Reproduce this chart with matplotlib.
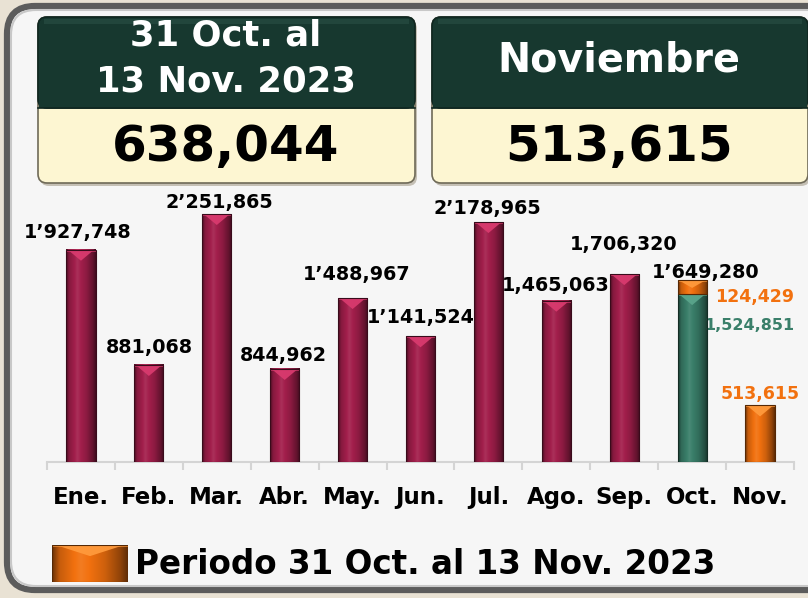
import numpy as np
import matplotlib.pyplot as plt
from matplotlib.patches import FancyBboxPatch, Rectangle, Polygon
from matplotlib.colors import to_rgb

plt.rcParams['font.family'] = ['DejaVu Sans']

# monthly totals, Oct split into base part and the 31 Oct - 13 Nov period
months = ['Ene.', 'Feb.', 'Mar.', 'Abr.', 'May.', 'Jun.', 'Jul.', 'Ago.', 'Sep.', 'Oct.', 'Nov.']
base_values = [1927748, 881068, 2251865, 844962, 1488967, 1141524, 2178965, 1465063, 1706320, 1524851, 0]
period_values = [0, 0, 0, 0, 0, 0, 0, 0, 0, 124429, 513615]
total_labels = ['1’927,748', '881,068', '2’251,865', '844,962', '1’488,967', '1’141,524',
                '2’178,965', '1,465,063', '1,706,320', '1’649,280', '']
label_shift = [(-3, 19), (1, 19), (3, 13), (-1, 15), (4, 25), (0, 20),
               (-1, 15), (-1, 17), (-1, 31), (13, 9), (0, 0)]

MAROON = '#a31f4c'
GREEN = '#3a7f6a'
ORANGE = '#f2710f'
HIGHLIGHT = {MAROON: '#d83a6e', GREEN: '#5aa58b', ORANGE: '#ff9a3c'}
W, H = 808, 598


def fmt(v):
    return f'{v:,}'


def tint(rgb, f):
    rgb = np.asarray(rgb)
    if f >= 1:
        return np.clip(rgb + (1 - rgb) * (f - 1), 0, 1)
    return rgb * f


def bevel_bar(ax, x, bottom, height, width, color, depth, z=3):
    """bar with a rounded-looking horizontal shade and a light chevron on top"""
    if height <= 0:
        return
    rgb = to_rgb(color)
    hi = HIGHLIGHT[color]
    t = np.linspace(0, 1, 80)
    prof = np.interp(t, [0, 0.1, 0.38, 0.7, 0.9, 1], [0.45, 0.82, 1.08, 0.85, 0.6, 0.4])
    img = np.array([[tint(rgb, f) for f in prof]])
    x0, x1 = x - width / 2, x + width / 2
    top = bottom + height
    ax.imshow(img, extent=[x0, x1, bottom, top], aspect='auto', zorder=z,
              interpolation='bilinear')
    d = min(depth, height * 0.55)
    ax.add_patch(Polygon([(x0 + width * 0.05, top), (x1 - width * 0.05, top), (x, top - d)],
                         closed=True, fc=hi, ec='none', alpha=0.95, zorder=z + 0.1))
    ax.add_patch(Rectangle((x0, top - d * 0.18), width, d * 0.18, fc=hi,
                           ec='none', alpha=0.7, zorder=z + 0.2))
    ax.add_patch(Rectangle((x0, bottom), width, height, fc='none',
                           ec=tint(rgb, 0.35), lw=0.8, zorder=z + 0.3))


fig = plt.figure(figsize=(W / 100, H / 100), dpi=100)
fig.patch.set_facecolor('#e9e2d4')

# pixel-space layer for the panel and the header boxes
bg = fig.add_axes([0, 0, 1, 1])
bg.set_xlim(0, W)
bg.set_ylim(H, 0)
bg.axis('off')

bg.add_patch(FancyBboxPatch((7, 6), 840, 584, boxstyle='round,pad=0,rounding_size=28',
                            fc='#f6f6f6', ec='#5c5c5c', lw=4.5))
bg.add_patch(FancyBboxPatch((11, 10), 832, 576, boxstyle='round,pad=0,rounding_size=25',
                            fc='none', ec='#c8c8c8', lw=1.5))

header_boxes = [(38, 415), (432, 808)]
for (bx0, bx1) in header_boxes:
    bg.add_patch(FancyBboxPatch((bx0 + 2, 20), bx1 - bx0, 166,
                                boxstyle='round,pad=0,rounding_size=9',
                                fc='#a59d8a', ec='none', alpha=0.6))
    bg.add_patch(FancyBboxPatch((bx0, 17), bx1 - bx0, 166,
                                boxstyle='round,pad=0,rounding_size=9',
                                fc='#fdf6d2', ec='#6f6a58', lw=1.2))
    bg.add_patch(FancyBboxPatch((bx0, 17), bx1 - bx0, 91,
                                boxstyle='round,pad=0,rounding_size=9',
                                fc='#17382f', ec='#0f2620', lw=1.2))
    bg.add_patch(Rectangle((bx0 + 0.6, 92), bx1 - bx0 - 1.2, 16, fc='#17382f', ec='none'))
    bg.add_patch(Rectangle((bx0 + 6, 19), bx1 - bx0 - 12, 5, fc='#2a5045', ec='none', alpha=0.6))
    bg.plot([bx0, bx1], [108, 108], color='#0f2620', lw=1.2)

period_total = sum(period_values)
nov_total = period_values[-1]

bg.text(226, 35, '31 Oct. al', color='white', fontsize=25.5, fontweight='bold',
        ha='center', va='center')
bg.text(226, 82, '13 Nov. 2023', color='white', fontsize=25.5, fontweight='bold',
        ha='center', va='center')
bg.text(226, 147, fmt(period_total), color='black', fontsize=36, fontweight='bold',
        ha='center', va='center')
bg.text(619, 60, 'Noviembre', color='white', fontsize=28.5, fontweight='bold',
        ha='center', va='center')
bg.text(619, 147, fmt(nov_total), color='black', fontsize=36, fontweight='bold',
        ha='center', va='center')

# chart
ax = fig.add_axes([47 / W, (H - 462) / H, (794 - 47) / W, (462 - 190) / H])
ax.patch.set_alpha(0)
ymax = 2.47e6
ax.set_xlim(-0.5, 10.5)
ax.set_ylim(0, ymax)
px = ymax / 272  # data units per pixel

x = np.arange(len(months))
bw = 0.43
for i in x:
    base_color = GREEN if i == 9 else MAROON
    bevel_bar(ax, i, 0, base_values[i], bw, base_color, 11 * px)
    bevel_bar(ax, i, base_values[i], period_values[i], bw, ORANGE, 11 * px, z=4)

for i, txt in enumerate(total_labels):
    if not txt:
        continue
    dx, dy = label_shift[i]
    top = base_values[i] + period_values[i]
    ax.annotate(txt, (i, top), xytext=(dx * 0.72, (dy - 7) * 0.72), textcoords='offset points',
                ha='center', va='baseline', fontsize=13.8, fontweight='bold', color='black')

# Oct split labels and Nov period label
oct_i, nov_i = 9, 10
ax.annotate(fmt(period_values[oct_i]), (oct_i, base_values[oct_i] + period_values[oct_i]),
            xytext=(62 * 0.72, (-16 - 6) * 0.72), textcoords='offset points',
            ha='center', va='baseline', fontsize=12.5, fontweight='bold', color=ORANGE)
ax.annotate(fmt(base_values[oct_i]), (oct_i, base_values[oct_i]),
            xytext=(57 * 0.72, (-30 - 6) * 0.72), textcoords='offset points',
            ha='center', va='baseline', fontsize=11.5, fontweight='bold', color=GREEN)
ax.annotate(fmt(period_values[nov_i]), (nov_i, period_values[nov_i]),
            xytext=(0, (12 - 6) * 0.72), textcoords='offset points',
            ha='center', va='baseline', fontsize=12.5, fontweight='bold', color=ORANGE)

for s in ['top', 'left', 'right']:
    ax.spines[s].set_visible(False)
ax.spines['bottom'].set_color('#d4d4d4')
ax.spines['bottom'].set_linewidth(1.5)
ax.set_yticks([])
ax.set_xticks(x)
ax.set_xticklabels(months, fontsize=16.5, fontweight='bold')
ax.tick_params(axis='x', length=0, pad=17)
ax.set_xticks(np.arange(-0.5, 11, 1), minor=True)
ax.tick_params(axis='x', which='minor', length=6, width=1.5, color='#d4d4d4')

# legend swatch
lg = fig.add_axes([52 / W, (H - 582) / H, 76 / W, 37 / H])
lg.set_xlim(0, 1)
lg.set_ylim(0, 1)
lg.axis('off')
bevel_bar(lg, 0.5, 0, 1, 1, ORANGE, 0.3)
bg.text(135, 564, 'Periodo 31 Oct. al 13 Nov. 2023', fontsize=23.5, fontweight='bold',
        color='black', ha='left', va='center')

fig.savefig('out.png', dpi=100, facecolor=fig.get_facecolor())
